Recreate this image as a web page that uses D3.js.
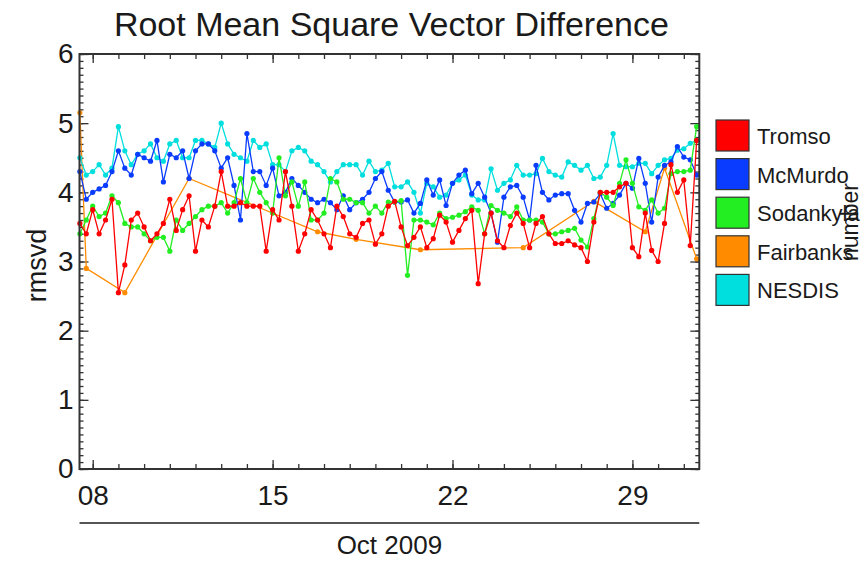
<!DOCTYPE html>
<html><head><meta charset="utf-8">
<script src="https://cdn.jsdelivr.net/npm/d3@7"></script>
<style>
body{margin:0;background:#fff}
text{font-family:"Liberation Sans",Arial,Helvetica,sans-serif;fill:#1a1a1a}
</style>
</head><body>
<svg id="chart" width="865" height="562"></svg>
<script>
// ---- data ----
const seriesNames = ["Tromso", "McMurdo", "Sodankyla", "Fairbanks", "NESDIS"];
const seriesColors = ["#ff0000", "#0a3cff", "#22ee22", "#ff8c00", "#00dede"];
const sampleStart = "2009-10-07T12:00:00Z";   // 6-hourly samples
const sampleStepHours = 6;
const tromso = [3.55,3.4,3.75,3.4,3.6,3.9,2.55,2.95,3.6,3.7,
 3.5,3.3,3.4,3.55,3.9,3.45,3.75,3.95,3.15,3.6,
 3.5,3.8,4.3,3.8,3.8,3.85,3.8,3.8,3.8,3.15,
 3.75,3.6,4.3,3.8,3.15,3.4,3.75,3.6,3.4,3.2,
 3.8,3.65,3.4,3.35,3.55,3.6,3.25,3.4,3.8,3.87,
 3.5,3.23,3.35,3.5,3.2,3.33,3.67,3.57,3.28,3.45,
 3.62,3.74,2.68,3.4,3.7,3.3,3.2,3.52,3.7,3.55,
 3.2,3.55,3.65,3.4,3.26,3.26,3.3,3.24,3.2,3.0,
 3.57,4.0,4.0,4.0,4.08,4.13,3.2,3.07,3.7,3.16,
 3.0,3.55,4.4,4.0,4.18,3.23,4.75];
const mcmurdo = [4.3,3.9,4.0,4.05,4.1,4.3,4.6,4.35,4.25,4.55,
 4.5,4.45,4.75,4.15,4.55,4.5,4.6,4.2,4.6,4.7,
 4.7,4.6,4.35,4.5,4.1,3.6,4.85,4.3,4.3,4.1,
 4.35,3.95,4.0,4.2,4.1,4.0,3.9,3.85,3.9,3.85,
 3.75,3.95,3.75,3.85,3.9,4.0,4.2,4.3,4.03,3.86,
 3.86,3.89,3.7,3.84,4.18,3.96,4.18,3.81,4.13,4.25,
 4.32,3.98,4.13,3.93,3.7,3.28,3.93,4.08,4.1,3.93,
 3.6,4.39,4.0,3.89,3.96,3.98,3.98,3.74,3.57,3.84,
 3.86,3.98,3.77,3.84,3.96,4.13,4.06,4.49,4.13,3.57,
 4.22,4.39,4.44,4.66,4.51,4.47,4.25];
const sodankyla = [3.4,3.6,3.8,3.65,3.7,3.95,3.85,3.55,3.5,3.5,
 3.4,3.3,3.35,3.35,3.15,3.6,3.45,3.55,3.65,3.75,
 3.8,3.8,3.85,3.7,3.85,4.2,3.85,4.2,4.0,3.85,
 3.7,4.5,3.95,4.15,3.8,4.15,3.6,3.6,3.7,4.2,
 4.15,3.9,3.9,3.85,3.85,3.7,3.8,3.7,3.86,3.86,
 3.88,2.8,3.6,3.6,3.57,3.53,3.7,3.62,3.64,3.67,
 3.72,3.79,3.74,3.4,3.81,3.74,3.7,3.65,3.79,3.6,
 3.6,3.6,3.57,3.4,3.4,3.43,3.45,3.48,3.31,3.21,
 3.62,4.0,3.93,3.81,4.13,4.47,4.13,3.79,3.74,3.89,
 3.7,3.77,4.27,4.3,4.3,4.32,4.95];
const nesdis = [4.5,4.25,4.3,4.4,4.25,4.35,4.95,4.6,4.4,4.55,
 4.6,4.7,4.5,4.45,4.7,4.75,4.5,4.5,4.75,4.75,
 4.7,4.65,5.0,4.7,4.55,4.5,4.45,4.75,4.65,4.7,
 4.4,4.4,4.3,4.6,4.65,4.6,4.45,4.4,4.3,4.15,
 4.3,4.4,4.4,4.4,4.25,4.45,4.3,4.32,4.42,4.08,
 4.08,4.15,4.0,3.7,4.13,4.08,3.93,3.96,4.13,4.18,
 4.25,3.96,3.89,3.89,4.34,4.03,4.13,4.18,4.39,4.25,
 4.25,4.27,4.49,4.3,4.25,4.22,4.44,4.39,4.32,4.39,
 4.2,4.22,4.39,4.85,4.39,4.37,4.37,4.42,4.42,4.27,
 4.39,4.47,4.49,4.61,4.63,4.71,4.75];
const fairbanksTimes = ["2009-10-07T12:00:00Z","2009-10-07T18:00:00Z","2009-10-09T06:00:00Z",
 "2009-10-11T18:00:00Z","2009-10-16T18:00:00Z","2009-10-18T06:00:00Z","2009-10-20T18:00:00Z",
 "2009-10-24T18:00:00Z","2009-10-27T12:00:00Z","2009-10-29T12:00:00Z","2009-10-30T06:00:00Z",
 "2009-10-31T12:00:00Z"];
const fairbanks = [5.15,2.9,2.55,4.2,3.43,3.32,3.17,3.2,3.87,3.43,4.35,3.04];
const yTicks = [0,1,2,3,4,5,6];
const xTickDays = ["2009-10-08","2009-10-15","2009-10-22","2009-10-29"];
const xTickLabels = ["08","15","22","29"];
const domainStart = "2009-10-07T11:40:00Z";
const domainEnd = "2009-10-31T14:28:00Z";

// ---- drawing ----
const svg = d3.select("#chart");
const L = 79.5, R = 699.3, T = 54, B = 469;
const x = d3.scaleUtc().domain([new Date(domainStart), new Date(domainEnd)]).range([L, R]);
const y = d3.scaleLinear().domain([0, 6]).range([B, T]);
const t0 = new Date(sampleStart).getTime();
const timeAt = i => new Date(t0 + i * sampleStepHours * 3600e3);
const dense = [tromso, mcmurdo, sodankyla, null, nesdis];
const seriesData = seriesNames.map((name, k) => {
  if (k === 3) return fairbanks.map((v, i) => ({t: new Date(fairbanksTimes[i]), v}));
  return dense[k].map((v, i) => ({t: timeAt(i), v}));
});

const axisColor = "#333";
const days = d3.utcDay.range(new Date("2009-10-08T00:00:00Z"), new Date("2009-10-31T12:00:00Z"));
const majorDays = xTickDays.map(d => new Date(d + "T00:00:00Z"));
const minorY = d3.range(0, 61).map(d => d / 10);

function styleAxis(g) {
  g.select(".domain").remove();
  g.selectAll("line").attr("stroke", axisColor).attr("stroke-width", 1.3);
  g.selectAll("text").attr("fill", "#1a1a1a").attr("font-size", 28)
    .attr("font-family", "Liberation Sans, Arial, sans-serif");
}
// bottom
svg.append("g").attr("transform", `translate(0,${B})`)
  .call(d3.axisBottom(x).tickValues(days).tickSizeInner(-5).tickSizeOuter(0).tickFormat(""))
  .call(styleAxis);
svg.append("g").attr("transform", `translate(0,${B})`)
  .call(d3.axisBottom(x).tickValues(majorDays).tickSizeInner(-9).tickSizeOuter(0).tickPadding(16)
    .tickFormat((d, i) => xTickLabels[i]))
  .call(styleAxis);
// top
svg.append("g").attr("transform", `translate(0,${T})`)
  .call(d3.axisTop(x).tickValues(days).tickSizeInner(-5).tickSizeOuter(0).tickFormat(""))
  .call(styleAxis);
svg.append("g").attr("transform", `translate(0,${T})`)
  .call(d3.axisTop(x).tickValues(majorDays).tickSizeInner(-9).tickSizeOuter(0).tickFormat(""))
  .call(styleAxis);
// left
svg.append("g").attr("transform", `translate(${L},0)`)
  .call(d3.axisLeft(y).tickValues(minorY).tickSizeInner(-4).tickSizeOuter(0).tickFormat(""))
  .call(styleAxis);
svg.append("g").attr("transform", `translate(${L},0)`)
  .call(d3.axisLeft(y).tickValues(yTicks).tickSizeInner(-9).tickSizeOuter(0).tickPadding(6)
    .tickFormat(d3.format("d")))
  .call(styleAxis);
// right
svg.append("g").attr("transform", `translate(${R},0)`)
  .call(d3.axisRight(y).tickValues(minorY).tickSizeInner(-4).tickSizeOuter(0).tickFormat(""))
  .call(styleAxis);
svg.append("g").attr("transform", `translate(${R},0)`)
  .call(d3.axisRight(y).tickValues(yTicks).tickSizeInner(-9).tickSizeOuter(0).tickFormat(""))
  .call(styleAxis);

// data
const plot = svg.append("g");
const line = d3.line().x(d => x(d.t)).y(d => y(d.v));
const drawOrder = [3, 4, 1, 2, 0];
drawOrder.forEach(k => {
  const g = plot.append("g");
  g.append("path").datum(seriesData[k]).attr("d", line)
    .attr("fill", "none").attr("stroke", seriesColors[k]).attr("stroke-width", 1.3);
  g.selectAll("circle").data(seriesData[k]).join("circle")
    .attr("cx", d => x(d.t)).attr("cy", d => y(d.v)).attr("r", 2.6)
    .attr("fill", seriesColors[k]);
});

// frame
svg.append("rect").attr("x", L).attr("y", T).attr("width", R - L).attr("height", B - T)
  .attr("fill", "none").attr("stroke", axisColor).attr("stroke-width", 2);

// title & labels
svg.append("text").attr("x", (L + R) / 2 + 2).attr("y", 36).attr("text-anchor", "middle")
  .attr("font-size", 34).text("Root Mean Square Vector Difference");
svg.append("text").attr("transform", `translate(46,${(T + B) / 2 + 4}) rotate(-90)`)
  .attr("text-anchor", "middle").attr("font-size", 27).text("rmsvd");
svg.append("line").attr("x1", L).attr("x2", R).attr("y1", 523).attr("y2", 523)
  .attr("stroke", "#555").attr("stroke-width", 2);
svg.append("text").attr("x", (L + R) / 2).attr("y", 554).attr("text-anchor", "middle")
  .attr("font-size", 26).text("Oct 2009");

// legend
const lg = svg.append("g");
seriesNames.forEach((name, k) => {
  const yy = 120 + k * 38.6;
  lg.append("rect").attr("x", 716).attr("y", yy).attr("width", 33).attr("height", 31)
    .attr("fill", seriesColors[k]).attr("stroke", "#333").attr("stroke-width", 1.2);
  lg.append("text").attr("x", 757).attr("y", yy + 24).attr("font-size", 22).text(name);
});
svg.append("text").attr("transform", "translate(858,222) rotate(-90)")
  .attr("text-anchor", "middle").attr("font-size", 23).text("number");
</script>
</body></html>
